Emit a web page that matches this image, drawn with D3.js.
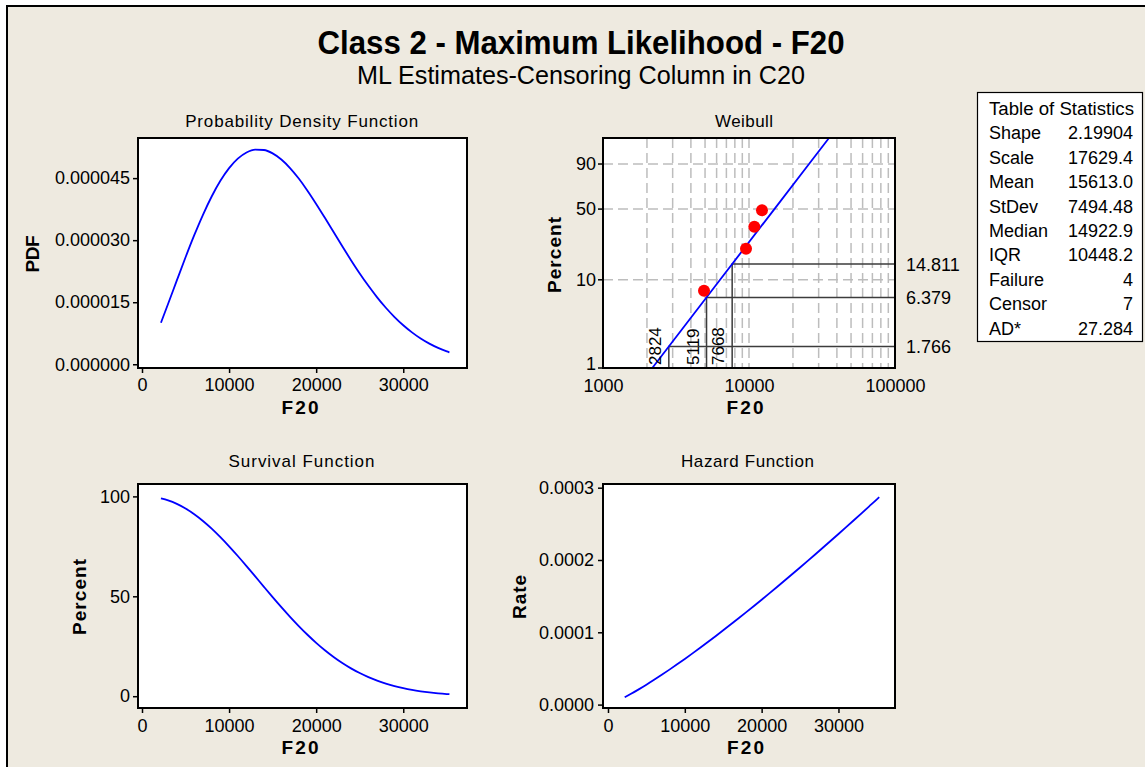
<!DOCTYPE html>
<html>
<head>
<meta charset="utf-8">
<script src="https://cdn.jsdelivr.net/npm/d3@7"></script>
<style>
  html, body { margin: 0; padding: 0; background: #ffffff; }
  svg { display: block; }
  text { font-family: "Liberation Sans", Arial, sans-serif; fill: #000; }
</style>
</head>
<body>
<svg id="chart" width="1145" height="767"></svg>
<script>
// ---- Fitted Weibull distribution, evaluated on a grid of F20 values ----
const times = [2175, 3000, 4000, 5000, 6000, 7000, 8000, 9000, 10000, 11000, 12000,
  13000, 14000, 15000, 16000, 17000, 18000, 19000, 20000, 21000, 22000, 23000,
  24000, 25000, 26000, 27000, 28000, 29000, 30000, 31000, 32000, 33000, 34000,
  35000, 35303];

const pdfValues = [0.00001004, 0.00001462, 0.00002027, 0.00002586, 0.00003120,
  0.00003614, 0.00004056, 0.00004435, 0.00004742, 0.00004971, 0.00005120,
  0.00005189, 0.00005180, 0.00005098, 0.00004950, 0.00004744, 0.00004490,
  0.00004197, 0.00003877, 0.00003540, 0.00003196, 0.00002852, 0.00002517,
  0.00002196, 0.00001896, 0.00001618, 0.00001367, 0.00001142, 0.00000944,
  0.00000772, 0.00000624, 0.00000500, 0.00000396, 0.00000310, 0.00000287];

const survivalPct = [99.00, 97.99, 96.24, 93.93, 91.08, 87.71, 83.87, 79.62, 75.02,
  70.16, 65.11, 59.94, 54.75, 49.61, 44.58, 39.73, 35.11, 30.76, 26.72, 23.01,
  19.64, 16.62, 13.94, 11.58, 9.54, 7.78, 6.29, 5.04, 4.00, 3.14, 2.45, 1.89,
  1.44, 1.09, 1.00];

const hazardRate = [0.00001014, 0.00001492, 0.00002107, 0.00002753, 0.00003426,
  0.00004121, 0.00004837, 0.00005570, 0.00006320, 0.00007085, 0.00007865,
  0.00008657, 0.00009461, 0.00010277, 0.00011104, 0.00011941, 0.00012788,
  0.00013645, 0.00014510, 0.00015385, 0.00016267, 0.00017158, 0.00018056,
  0.00018962, 0.00019875, 0.00020795, 0.00021722, 0.00022655, 0.00023595,
  0.00024541, 0.00025493, 0.00026452, 0.00027416, 0.00028385, 0.00028686];

// ---- Weibull probability plot ----
const failureTimes = [4919, 9539, 10877, 12274];
const failurePercents = [7.55, 21.4, 35.2, 48.9];
const fitPercents = [1, 10, 50, 90, 99];
const fitTimes = [2176, 6336, 14923, 25760, 35303];
const refTimes = [2824, 5119, 7668];
const refPercents = [1.766, 6.379, 14.811];
const refTimeLabels = ["2824", "5119", "7668"];
const refPercentLabels = ["1.766", "6.379", "14.811"];

// ---- Tick values ----
const linearXTicks = [0, 10000, 20000, 30000];
const pdfTicks = [0, 0.000015, 0.000030, 0.000045];
const survivalTicks = [0, 50, 100];
const hazardTicks = [0, 0.0001, 0.0002, 0.0003];
const weibullPctTicks = [1, 10, 50, 90];
const weibullTimeTicks = [1000, 10000, 100000];
const weibullMinorTimes = [2000, 3000, 4000, 5000, 6000, 7000, 8000, 9000, 10000,
  20000, 30000, 40000, 50000, 60000, 70000, 80000, 90000];

// ---- Table of statistics ----
const statNames = ["Shape", "Scale", "Mean", "StDev", "Median", "IQR", "Failure", "Censor", "AD*"];
const statValues = ["2.19904", "17629.4", "15613.0", "7494.48", "14922.9", "10448.2", "4", "7", "27.284"];

const BG = "#eeeae0";
const BLUE = "#0000ff";
const TICK_FONT = 18;
const svg = d3.select("#chart");

// page background and frame
svg.append("rect").attr("x", 7).attr("y", 6).attr("width", 1145).attr("height", 767).attr("fill", BG);
svg.append("line").attr("x1", 7).attr("x2", 7).attr("y1", 5).attr("y2", 767).attr("stroke", "#000").attr("stroke-width", 2);
svg.append("line").attr("x1", 6).attr("x2", 1145).attr("y1", 6).attr("y2", 6).attr("stroke", "#000").attr("stroke-width", 2);

// titles
svg.append("text").attr("x", 581).attr("y", 54).attr("text-anchor", "middle")
  .attr("font-size", 33).attr("font-weight", "bold")
  .attr("textLength", 527).attr("lengthAdjust", "spacingAndGlyphs")
  .text("Class 2 - Maximum Likelihood - F20");
svg.append("text").attr("x", 581).attr("y", 84).attr("text-anchor", "middle")
  .attr("font-size", 25)
  .attr("textLength", 448).attr("lengthAdjust", "spacingAndGlyphs")
  .text("ML Estimates-Censoring Column in C20");

// panel geometry
const L = { x0: 138, x1: 467 }, R = { x0: 603, x1: 895 };
const T = { y0: 138, y1: 368 }, B = { y0: 484, y1: 708 };

function panelTitle(cx, y, str, w) {
  svg.append("text").attr("x", cx).attr("y", y).attr("text-anchor", "middle")
    .attr("font-size", 17).attr("textLength", w).attr("lengthAdjust", "spacing").text(str);
}
function xTitle(cx, y, str, w) {
  svg.append("text").attr("x", cx).attr("y", y).attr("text-anchor", "middle")
    .attr("font-size", 19).attr("font-weight", "bold")
    .attr("textLength", w).attr("lengthAdjust", "spacing").text(str);
}
function yTitle(x, cy, str, w) {
  svg.append("text").attr("transform", `translate(${x},${cy}) rotate(-90)`)
    .attr("text-anchor", "middle").attr("font-size", 19).attr("font-weight", "bold")
    .attr("textLength", w).attr("lengthAdjust", "spacing").text(str);
}
function frame(px, py) {
  svg.append("rect").attr("x", px.x0).attr("y", py.y0)
    .attr("width", px.x1 - px.x0).attr("height", py.y1 - py.y0)
    .attr("fill", "#fff");
}
function frameBorder(px, py) {
  svg.append("rect").attr("x", px.x0).attr("y", py.y0)
    .attr("width", px.x1 - px.x0).attr("height", py.y1 - py.y0)
    .attr("fill", "none").attr("stroke", "#000").attr("stroke-width", 2);
}
function styleAxis(g) {
  g.select(".domain").remove();
  g.selectAll(".tick line").attr("stroke", "#000").attr("stroke-width", 1.5);
  g.selectAll(".tick text").attr("font-size", TICK_FONT).attr("font-family", "'Liberation Sans', Arial, sans-serif").attr("fill", "#000");
}
function drawCurve(x, y, values) {
  const line = d3.line().x((d, i) => x(times[i])).y(d => y(d)).curve(d3.curveMonotoneX);
  svg.append("path").datum(values).attr("d", line)
    .attr("fill", "none").attr("stroke", BLUE).attr("stroke-width", 1.8);
}

// ---------- Probability Density Function ----------
{
  const x = d3.scaleLinear().domain([-460, 37320]).range([L.x0, L.x1]);
  const y = d3.scaleLinear().domain([-0.0000009, 0.0000547]).range([T.y1, T.y0]);
  frame(L, T);
  drawCurve(x, y, pdfValues);
  frameBorder(L, T);
  svg.append("g").attr("transform", `translate(0,${T.y1})`)
    .call(d3.axisBottom(x).tickValues(linearXTicks).tickFormat(d3.format("d")).tickSize(5).tickSizeOuter(0).tickPadding(5))
    .call(styleAxis);
  svg.append("g").attr("transform", `translate(${L.x0},0)`)
    .call(d3.axisLeft(y).tickValues(pdfTicks).tickFormat(d3.format(".6f")).tickSize(5).tickSizeOuter(0).tickPadding(3))
    .call(styleAxis);
  panelTitle(301.7, 127, "Probability Density Function", 233);
  xTitle(300, 414, "F20", 37);
  yTitle(39, 254, "PDF", 37);
}

// ---------- Weibull probability plot ----------
{
  const x = d3.scaleLog().domain([1000, 100000]).range([R.x0, R.x1]);
  const tf = p => Math.log(-Math.log(1 - p / 100));
  const yLin = d3.scaleLinear().domain([tf(1), tf(99)]).range([T.y1, T.y0]);
  const y = p => yLin(tf(p));
  frame(R, T);
  const grid = svg.append("g").attr("stroke", "#bdbdbd").attr("stroke-width", 1.5).attr("stroke-dasharray", "10,5");
  grid.selectAll("line.v").data(weibullMinorTimes).join("line")
    .attr("x1", d => x(d)).attr("x2", d => x(d)).attr("y1", T.y0).attr("y2", T.y1);
  grid.selectAll("line.h").data(weibullPctTicks.filter(p => p > 1)).join("line")
    .attr("x1", R.x0).attr("x2", R.x1).attr("y1", d => y(d)).attr("y2", d => y(d));

  // percentile reference lines
  const ref = svg.append("g").attr("stroke", "#3c3c3c").attr("stroke-width", 1.5).attr("fill", "none");
  refTimes.forEach((t, i) => {
    ref.append("path").attr("d",
      `M${x(t)},${T.y1}V${y(refPercents[i])}H${R.x1}`);
  });

  // fitted line
  const fit = d3.line().x((d, i) => x(fitTimes[i])).y(d => y(d));
  svg.append("path").datum(fitPercents).attr("d", fit)
    .attr("fill", "none").attr("stroke", BLUE).attr("stroke-width", 1.8);

  // failures
  svg.append("g").selectAll("circle").data(failurePercents).join("circle")
    .attr("cx", (d, i) => x(failureTimes[i])).attr("cy", d => y(d)).attr("r", 6)
    .attr("fill", "#ff0000");

  frameBorder(R, T);

  // reference labels
  refTimes.forEach((t, i) => {
    svg.append("text").attr("transform", `translate(${x(t) - 8},${T.y1 - 3}) rotate(-90)`)
      .attr("font-size", 17).text(refTimeLabels[i]);
    svg.append("text").attr("x", R.x1 + 11).attr("y", y(refPercents[i])).attr("dy", "0.36em")
      .attr("font-size", TICK_FONT).text(refPercentLabels[i]);
  });

  svg.append("g").attr("transform", `translate(0,${T.y1})`)
    .call(d3.axisBottom(x).tickValues(weibullTimeTicks).tickFormat(d3.format("d")).tickSize(0).tickPadding(11))
    .call(styleAxis);
  const yAx = svg.append("g").attr("transform", `translate(${R.x0},0)`);
  yAx.selectAll("line").data(weibullPctTicks).join("line")
    .attr("x1", -5).attr("x2", 0).attr("y1", d => y(d)).attr("y2", d => y(d))
    .attr("stroke", "#000").attr("stroke-width", 1.5);
  // the bottom label sits a little higher so it clears the "1000" label below it
  yAx.selectAll("text").data(weibullPctTicks).join("text")
    .attr("x", -7).attr("y", d => y(d) - (d === 1 ? 4 : 0)).attr("dy", "0.34em").attr("text-anchor", "end")
    .attr("font-size", TICK_FONT).text(d => d);
  panelTitle(744, 127, "Weibull", 58);
  xTitle(745, 414, "F20", 37);
  yTitle(561, 255, "Percent", 76);
}

// ---------- Survival Function ----------
{
  const x = d3.scaleLinear().domain([-460, 37320]).range([L.x0, L.x1]);
  const y = d3.scaleLinear().domain([-5.9, 106.2]).range([B.y1, B.y0]);
  frame(L, B);
  drawCurve(x, y, survivalPct);
  frameBorder(L, B);
  svg.append("g").attr("transform", `translate(0,${B.y1})`)
    .call(d3.axisBottom(x).tickValues(linearXTicks).tickFormat(d3.format("d")).tickSize(5).tickSizeOuter(0).tickPadding(6))
    .call(styleAxis);
  svg.append("g").attr("transform", `translate(${L.x0},0)`)
    .call(d3.axisLeft(y).tickValues(survivalTicks).tickSize(5).tickSizeOuter(0).tickPadding(3))
    .call(styleAxis);
  panelTitle(301.5, 467, "Survival Function", 146);
  xTitle(300, 754, "F20", 37);
  yTitle(86, 597, "Percent", 76);
}

// ---------- Hazard Function ----------
{
  const x = d3.scaleLinear().domain([-650, 37360]).range([R.x0, R.x1]);
  const y = d3.scaleLinear().domain([-0.0000047, 0.0003051]).range([B.y1, B.y0]);
  frame(R, B);
  drawCurve(x, y, hazardRate);
  frameBorder(R, B);
  svg.append("g").attr("transform", `translate(0,${B.y1})`)
    .call(d3.axisBottom(x).tickValues(linearXTicks).tickFormat(d3.format("d")).tickSize(5).tickSizeOuter(0).tickPadding(6))
    .call(styleAxis);
  svg.append("g").attr("transform", `translate(${R.x0},0)`)
    .call(d3.axisLeft(y).tickValues(hazardTicks).tickFormat(d3.format(".4f")).tickSize(5).tickSizeOuter(0).tickPadding(4))
    .call(styleAxis);
  panelTitle(747.5, 467, "Hazard Function", 133);
  xTitle(745.5, 754, "F20", 37);
  yTitle(526, 597, "Rate", 44);
}

// ---------- Table of Statistics ----------
{
  const tx = 977.5, ty = 92.5, tw = 165, th = 249;
  svg.append("rect").attr("x", tx).attr("y", ty).attr("width", tw).attr("height", th)
    .attr("fill", "#fff").attr("stroke", "#000").attr("stroke-width", 1.2);
  svg.append("text").attr("x", 989).attr("y", 115).attr("font-size", 18)
    .attr("textLength", 145).attr("lengthAdjust", "spacingAndGlyphs").text("Table of Statistics");
  const rowY = i => 139.4 + i * 24.4;
  statNames.forEach((n, i) => {
    svg.append("text").attr("x", 989).attr("y", rowY(i)).attr("font-size", 18).text(n);
    svg.append("text").attr("x", 1133).attr("y", rowY(i)).attr("font-size", 18)
      .attr("text-anchor", "end").text(statValues[i]);
  });
}
</script>
</body>
</html>
